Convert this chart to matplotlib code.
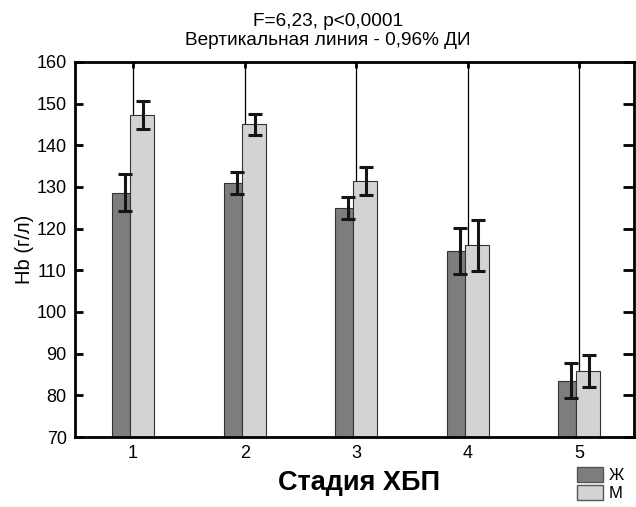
import numpy as np
from matplotlib import pyplot as plt
from matplotlib.patches import Patch

plt.rcParams['font.family'] = ['Liberation Sans', 'DejaVu Sans']

stages = [1, 2, 3, 4, 5]
stage_labels = ["1", "2", "3", "4", "5"]
hb_f = [128.6, 130.9, 124.9, 114.6, 83.5]
err_f = [4.4, 2.6, 2.6, 5.5, 4.2]
hb_m = [147.3, 145.0, 131.4, 116.0, 85.9]
err_m = [3.4, 2.5, 3.4, 6.1, 3.8]

dark = "#7d7d7d"
light = "#d3d3d3"

fig = plt.figure(figsize=(6.36, 5.07), dpi=100)
ax = fig.add_axes([0.118, 0.138, 0.879, 0.740])

x = np.array(stages, dtype=float)

# vertical lines from the top, behind the bars
for xi in x:
    ax.plot([xi, xi], [70, 160], color="black", lw=0.9, zorder=1)

ax.bar(x - 0.188, hb_f, width=0.161, align="edge", color=dark,
       edgecolor="#333333", linewidth=0.8, zorder=2)
ax.bar(x - 0.027, hb_m, width=0.215, align="edge", color=light,
       edgecolor="#333333", linewidth=0.8, zorder=2)

ax.errorbar(x - 0.072, hb_f, yerr=err_f, fmt="none", ecolor="#151515",
            elinewidth=2.2, capsize=5, capthick=2.2, zorder=3)
ax.errorbar(x + 0.09, hb_m, yerr=err_m, fmt="none", ecolor="#151515",
            elinewidth=2.2, capsize=5, capthick=2.2, zorder=3)

ax.set_xlim(0.48, 5.49)
ax.set_ylim(70, 160)
ax.set_yticks(np.arange(70, 161, 10))
ax.set_xticks(x)
ax.set_xticklabels(stage_labels)

for s in ax.spines.values():
    s.set_linewidth(2.0)

ax.tick_params(axis="y", direction="in", length=6, width=2,
               labelsize=13, right=True, pad=6)
ax.tick_params(axis="x", direction="in", length=4, width=2, top=True,
               labelsize=13, pad=6)
for t in ax.yaxis.get_major_ticks():
    t.tick2line.set_markersize(8)

ax.set_ylabel("Hb (г/л)", fontsize=14.5, labelpad=2)

fig.text(0.5157, 0.958, "F=6,23, p<0,0001", ha="center", va="center",
         fontsize=13.7)
fig.text(0.5157, 0.921, "Вертикальная линия - 0,96% ДИ", ha="center",
         va="center", fontsize=13.7)
fig.text(0.565, 0.047, "Стадия ХБП", ha="center", va="center", fontsize=19.5,
         fontweight="bold")

handles = [Patch(facecolor=dark, edgecolor="#555555", label="Ж"),
           Patch(facecolor=light, edgecolor="#555555", label="М")]
fig.legend(handles=handles, loc="lower right", bbox_to_anchor=(1.0, -0.012),
           frameon=False, fontsize=12, handlelength=1.6, handleheight=1.0,
           handletextpad=0.35, labelspacing=0.15, borderpad=0.2)

fig.savefig("out.png", dpi=100)
